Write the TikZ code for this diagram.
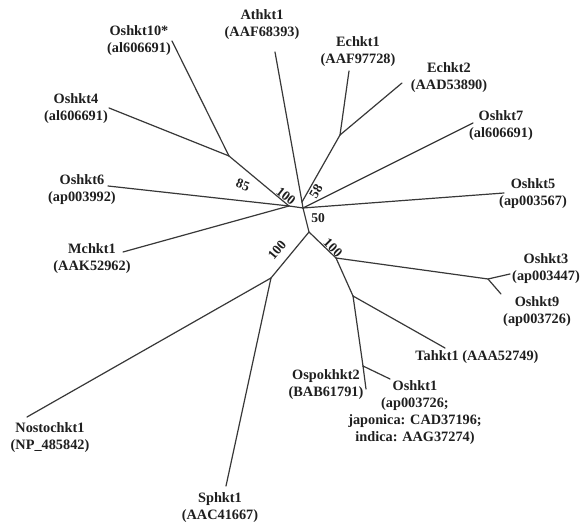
\documentclass[tikz,border=0pt]{standalone}
\usepackage{fontspec}
\setmainfont{Liberation Serif}
\begin{document}
\begin{tikzpicture}[x=1pt,y=-1pt,
  br/.style={draw=black!78,line width=1.2pt,line cap=round,line join=round},
  lab/.style={font=\fontsize{14.3}{17}\selectfont\bfseries,align=center,inner sep=0pt,text=black!88},
  bs/.style={font=\fontsize{13.5}{15}\selectfont\bfseries,inner sep=0pt,text=black!88}]
\useasboundingbox (0,0) rectangle (582,526);
\fill[white] (0,0) rectangle (582,526);
% internal nodes
\coordinate (C) at (303,208);
\coordinate (N1) at (302,202);
\coordinate (E) at (340,135);
\coordinate (D) at (309,232);
\coordinate (F) at (336,258);
\coordinate (G) at (488,279);
\coordinate (H) at (353,296);
\coordinate (I) at (363,366);
\coordinate (J) at (271,278);
\coordinate (L) at (289,206);
\coordinate (K) at (229,156);
% leaf ends
\coordinate (athE) at (275,52);
\coordinate (ech1E) at (349,71);
\coordinate (ech2E) at (402,83);
\coordinate (os7E) at (473,123);
\coordinate (os5E) at (504,193);
\coordinate (os3E) at (510,274);
\coordinate (os9E) at (501,294);
\coordinate (tahE) at (445,348);
\coordinate (ospE) at (366,389);
\coordinate (os1E) at (390,379);
\coordinate (nosE) at (27,417);
\coordinate (sphE) at (226,486);
\coordinate (os6E) at (108,186);
\coordinate (mchE) at (123,252);
\coordinate (os10E) at (172,41);
\coordinate (os4E) at (109,108);
% branches
\draw[br] (N1) -- (C);
\draw[br] (athE) -- (N1);
\draw[br] (E) -- (N1);
\draw[br] (ech1E) -- (E);
\draw[br] (ech2E) -- (E);
\draw[br] (os7E) -- (C);
\draw[br] (os5E) -- (C);
\draw[br] (C) -- (D);
\draw[br] (D) -- (F);
\draw[br] (F) -- (G);
\draw[br] (G) -- (os3E);
\draw[br] (G) -- (os9E);
\draw[br] (F) -- (H);
\draw[br] (H) -- (tahE);
\draw[br] (H) -- (I);
\draw[br] (I) -- (ospE);
\draw[br] (I) -- (os1E);
\draw[br] (D) -- (J);
\draw[br] (J) -- (nosE);
\draw[br] (J) -- (sphE);
\draw[br] (C) -- (L);
\draw[br] (L) -- (os6E);
\draw[br] (L) -- (mchE);
\draw[br] (L) -- (K);
\draw[br] (K) -- (os10E);
\draw[br] (K) -- (os4E);
% leaf labels
\node[lab] (os10) at (139,41) {Oshkt10*\\(al606691)};
\node[lab] (ath) at (262,25) {Athkt1\\(AAF68393)};
\node[lab] (ech1) at (358,52) {Echkt1\\(AAF97728)};
\node[lab] (ech2) at (449,78) {Echkt2\\(AAD53890)};
\node[lab] (os4) at (76,109) {Oshkt4\\(al606691)};
\node[lab] (os7) at (501,126) {Oshkt7\\(al606691)};
\node[lab] (os6) at (82,190) {Oshkt6\\(ap003992)};
\node[lab] (os5) at (533,194) {Oshkt5\\(ap003567)};
\node[lab] (mch) at (92,259) {Mchkt1\\(AAK52962)};
\node[lab] (os3) at (546,269) {Oshkt3\\(ap003447)};
\node[lab] (os9) at (537,312) {Oshkt9\\(ap003726)};
\node[lab] (tah) at (477,357) {Tahkt1 (AAA52749)};
\node[lab] (osp) at (326,385) {Ospokhkt2\\(BAB61791)};
\node[lab] (os1) at (415,413) {Oshkt1\\(ap003726;\\japonica: CAD37196;\\indica: AAG37274)};
\node[lab] (nos) at (50,438) {Nostochkt1\\(NP\_485842)};
\node[lab] (sph) at (220,508) {Sphkt1\\(AAC41667)};
% bootstrap values
\node[bs,rotate=-20] (b85) at (243,185) {85};
\node[bs,rotate=-38] (b100a) at (286,196) {100};
\node[bs,rotate=60] (b58) at (316,191) {58};
\node[bs] (b50) at (318,218) {50};
\node[bs,rotate=-45] (b100b) at (333,248) {100};
\node[bs,rotate=50] (b100c) at (277,250) {100};
\end{tikzpicture}
\end{document}
